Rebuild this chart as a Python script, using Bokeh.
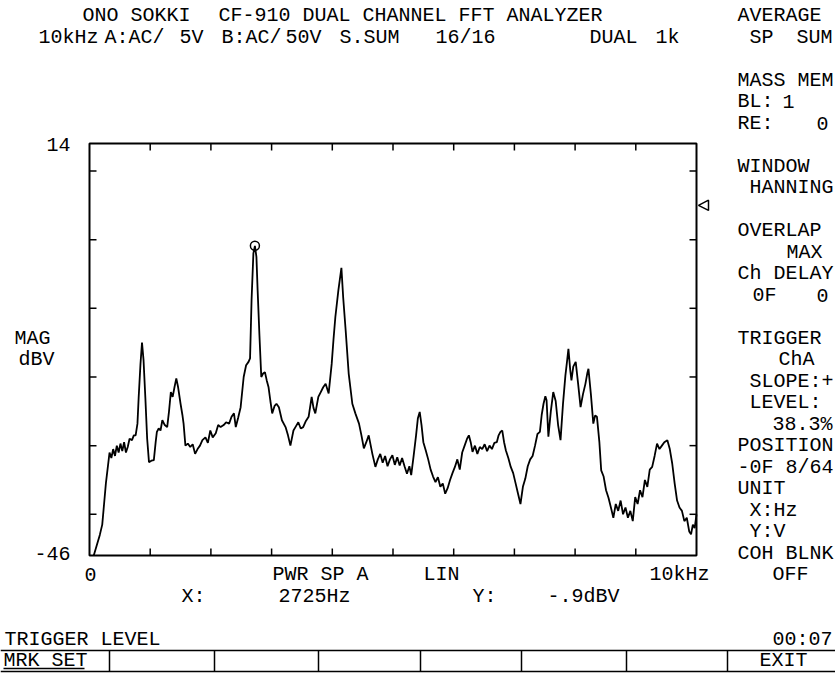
from bokeh.plotting import figure
from bokeh.models import Range1d
from bokeh.core.properties import value
from bokeh.embed import file_html
from bokeh.resources import INLINE

# ---------------- data ----------------
freq_khz = [0.07, 0.12, 0.17, 0.21, 0.24, 0.27, 0.31, 0.33, 0.36, 0.39,
            0.42, 0.45, 0.48, 0.51, 0.54, 0.57, 0.60, 0.63, 0.66, 0.70,
            0.73, 0.76, 0.79, 0.81, 0.84, 0.865, 0.89, 0.92, 0.95, 0.98,
            1.02, 1.06, 1.09, 1.11, 1.14, 1.17, 1.20, 1.24, 1.28, 1.31,
            1.34, 1.37, 1.40, 1.43, 1.46, 1.50, 1.53, 1.55, 1.58, 1.62,
            1.66, 1.70, 1.74, 1.78, 1.82, 1.86, 1.91, 1.95, 1.99, 2.03,
            2.08, 2.12, 2.16, 2.21, 2.25, 2.30, 2.34, 2.38, 2.41, 2.45,
            2.49, 2.54, 2.58, 2.62, 2.645, 2.67, 2.70, 2.725, 2.75, 2.77,
            2.80, 2.83, 2.86, 2.89, 2.92, 2.95, 2.98, 3.01, 3.05, 3.08,
            3.12, 3.17, 3.23, 3.27, 3.31, 3.36, 3.40, 3.44, 3.48, 3.52,
            3.56, 3.61, 3.66, 3.69, 3.72, 3.77, 3.81, 3.85, 3.89, 3.94,
            3.99, 4.02, 4.05, 4.10, 4.15, 4.18, 4.22, 4.27, 4.33, 4.38,
            4.44, 4.48, 4.52, 4.56, 4.60, 4.66, 4.71, 4.75, 4.79, 4.83,
            4.87, 4.91, 4.95, 4.99, 5.03, 5.07, 5.11, 5.15, 5.19, 5.23,
            5.27, 5.30, 5.34, 5.38, 5.41, 5.44, 5.47, 5.50, 5.54, 5.58,
            5.62, 5.66, 5.70, 5.74, 5.78, 5.82, 5.86, 5.90, 5.94, 5.98,
            6.02, 6.06, 6.10, 6.14, 6.18, 6.22, 6.25, 6.28, 6.31, 6.35,
            6.39, 6.43, 6.47, 6.51, 6.55, 6.59, 6.63, 6.67, 6.71, 6.74,
            6.77, 6.80, 6.83, 6.86, 6.90, 6.94, 6.98, 7.02, 7.06, 7.10,
            7.14, 7.18, 7.22, 7.26, 7.30, 7.34, 7.38, 7.42, 7.45, 7.48,
            7.51, 7.53, 7.56, 7.60, 7.64, 7.68, 7.72, 7.76, 7.80, 7.84,
            7.87, 7.89, 7.92, 7.94, 7.97, 8.01, 8.05, 8.09, 8.13, 8.17,
            8.20, 8.22, 8.26, 8.30, 8.33, 8.36, 8.40, 8.43, 8.47, 8.51,
            8.55, 8.59, 8.63, 8.67, 8.71, 8.75, 8.79, 8.83, 8.87, 8.91,
            8.95, 8.99, 9.03, 9.07, 9.11, 9.15, 9.19, 9.23, 9.27, 9.31,
            9.35, 9.39, 9.43, 9.47, 9.52, 9.56, 9.60, 9.64, 9.68, 9.72,
            9.76, 9.80, 9.84, 9.88, 9.91, 9.94, 9.97, 10.0]

mag_dbv = [-46.0, -44.5, -43.0, -41.5, -38.5, -35.5, -32.5, -31.0, -31.8, -30.5,
           -31.5, -30.0, -31.0, -29.7, -30.8, -29.5, -31.0, -30.2, -29.0, -29.2,
           -28.5, -28.5, -26.8, -23.0, -18.1, -15.0, -17.5, -23.0, -29.0, -32.4,
           -32.2, -32.1, -29.5, -28.0, -27.5, -27.8, -26.3, -27.0, -27.3, -25.0,
           -22.2, -22.9, -21.5, -20.2, -21.5, -23.9, -25.5, -26.8, -30.0, -29.7,
           -30.2, -29.8, -31.2, -30.5, -30.0, -29.2, -28.8, -29.6, -27.8, -28.8,
           -28.2, -27.0, -27.3, -27.0, -26.6, -26.8, -25.8, -25.3, -27.3, -25.9,
           -24.4, -20.0, -18.3, -17.8, -17.3, -8.8, -2.0, -0.9, -2.5, -7.4,
           -14.0, -20.0, -19.5, -19.3, -20.5, -21.5, -23.5, -25.3, -24.2, -23.9,
           -24.4, -26.3, -27.3, -28.5, -30.0, -27.8, -27.2, -26.6, -27.5, -27.3,
           -26.5, -25.8, -22.9, -24.5, -25.3, -22.9, -22.2, -21.5, -21.0, -22.4,
           -18.1, -14.5, -11.3, -7.4, -4.1, -8.5, -13.2, -19.5, -23.9, -25.3,
           -26.8, -28.5, -30.4, -29.5, -28.5, -31.2, -33.1, -32.0, -31.2, -32.5,
           -31.5, -33.0, -32.0, -31.4, -32.8, -31.7, -32.9, -31.8, -33.0, -34.1,
           -33.0, -34.3, -31.5, -28.5, -26.0, -25.1, -27.0, -29.5, -30.7, -32.0,
           -33.5, -34.5, -35.3, -34.6, -36.0, -35.5, -37.0, -36.2, -35.0, -34.0,
           -33.1, -32.0, -33.5, -31.0, -30.0, -29.0, -28.5, -29.5, -30.9, -30.0,
           -31.2, -30.2, -30.5, -29.8, -30.8, -30.0, -30.5, -29.6, -29.5, -28.5,
           -28.0, -27.8, -29.5, -30.7, -31.8, -33.1, -34.0, -35.5, -37.0, -38.5,
           -36.0, -34.8, -33.0, -32.0, -31.5, -30.0, -28.3, -28.0, -25.5, -23.9,
           -22.8, -23.4, -28.7, -25.0, -22.2, -23.5, -27.0, -29.2, -24.0, -19.8,
           -17.5, -15.9, -19.0, -20.5, -18.5, -17.8, -21.0, -24.4, -22.5, -21.0,
           -19.5, -18.8, -22.5, -26.8, -25.6, -25.8, -29.5, -33.6, -34.5, -36.5,
           -37.6, -39.0, -40.5, -38.5, -39.5, -38.0, -40.0, -39.0, -40.5, -39.5,
           -41.0, -37.5, -38.5, -36.5, -37.5, -35.0, -36.0, -33.5, -33.1, -31.5,
           -29.7, -30.5, -30.0, -29.5, -29.2, -30.5, -32.6, -35.5, -38.0, -39.0,
           -39.5, -41.0, -40.5, -42.5, -42.9, -41.5, -42.0, -40.0]

marker_freq_khz = [2.725]
marker_mag_dbv = [-0.9]
trigger_level_dbv = 5.0
x_range_khz = (0, 10)
y_range_dbv = (-46, 14)
x_ticks_khz = [1, 2, 3, 4, 5, 6, 7, 8, 9]
y_ticks_dbv = [-40, -30, -20, -10, 0, 10]

# ---------------- layout (canvas pixels) ----------------
FONT = "Liberation Mono"
FS = "20px"
W, H = 835, 673
FL, FR, FT, FB = 89, 696, 143, 555       # plot frame box
TICK = 7
ROW0, PITCH = 15, 21.5                    # character-row grid of the screen


def row(n):
    return ROW0 + PITCH * n


kx = (x_range_khz[1] - x_range_khz[0]) / (FR - FL)
ky = (y_range_dbv[1] - y_range_dbv[0]) / (FB - FT)
x_range = Range1d(x_range_khz[0] - FL * kx, x_range_khz[1] + (W - FR) * kx)
y_range = Range1d(y_range_dbv[0] - (H - FB) * ky, y_range_dbv[1] + FT * ky)

p = figure(width=W, height=H, output_backend="svg", toolbar_location=None,
           x_range=x_range, y_range=y_range,
           x_axis_type=None, y_axis_type=None, min_border=0)
p.extra_x_ranges = {"px": Range1d(0, W)}
p.extra_y_ranges = {"px": Range1d(H, 0)}
p.outline_line_color = None
p.background_fill_color = "white"
p.border_fill_color = "white"
p.grid.visible = False

# frame
p.quad(left=[x_range_khz[0]], right=[x_range_khz[1]],
       bottom=[y_range_dbv[0]], top=[y_range_dbv[1]],
       fill_color=None, line_color="black", line_width=2)
# inward ticks on all four sides
nx, ny = len(x_ticks_khz), len(y_ticks_dbv)
p.segment(x0=x_ticks_khz, y0=[FB] * nx, x1=x_ticks_khz, y1=[FB - TICK] * nx,
          y_range_name="px", line_color="black", line_width=1.5)
p.segment(x0=x_ticks_khz, y0=[FT] * nx, x1=x_ticks_khz, y1=[FT + TICK] * nx,
          y_range_name="px", line_color="black", line_width=1.5)
p.segment(x0=[FL] * ny, y0=y_ticks_dbv, x1=[FL + TICK] * ny, y1=y_ticks_dbv,
          x_range_name="px", line_color="black", line_width=1.5)
p.segment(x0=[FR] * ny, y0=y_ticks_dbv, x1=[FR - TICK] * ny, y1=y_ticks_dbv,
          x_range_name="px", line_color="black", line_width=1.5)

# spectrum + marker
p.line(freq_khz, mag_dbv, line_color="black", line_width=1.8)
p.scatter(marker_freq_khz, marker_mag_dbv, marker="circle", size=9,
          fill_color=None, line_color="black", line_width=1.5)

# trigger level triangle just right of the frame
tl = trigger_level_dbv
p.patch(x=[FR + 2, FR + 12, FR + 12], y=[tl, tl + 0.75, tl - 0.75],
        x_range_name="px", fill_color=None, line_color="black", line_width=1.5)

# ---------------- texts ----------------
texts = []   # (text, x, y, align)


def lab(text, x, y, align="center"):
    texts.append((text, x, y, align))


lab("ONO SOKKI", 82, row(0), "left")
lab("CF-910 DUAL CHANNEL FFT ANALYZER", 218, row(0), "left")
for t, cx in (("10kHz", 68), ("A:AC/", 134), ("5V", 191), ("B:AC/", 251),
              ("50V", 303), ("S.SUM", 369), ("16/16", 465), ("DUAL", 613),
              ("1k", 667)):
    lab(t, cx, row(1))

C0, C1 = 737, 749     # right panel: column 0 and indented column
panel = [(0, "AVERAGE", C0, "left"), (1, "SP", C1, "left"), (1, "SUM", 832, "right"),
         (3, "MASS MEM", C0, "left"), (4, "BL:", C0, "left"), (4, "1", 788, "center"),
         (5, "RE:", C0, "left"), (5, "0", 828, "right"),
         (7, "WINDOW", C0, "left"), (8, "HANNING", C1, "left"),
         (10, "OVERLAP", C0, "left"), (11, "MAX", 822, "right"),
         (12, "Ch DELAY", C0, "left"), (13, "0F", 752, "left"), (13, "0", 828, "right"),
         (15, "TRIGGER", C0, "left"), (16, "ChA", 814, "right"),
         (17, "SLOPE:+", C1, "left"), (18, "LEVEL:", C1, "left"),
         (19, "38.3%", 832, "right"), (20, "POSITION", C0, "left"),
         (21, "-0F 8/64", C0, "left"), (22, "UNIT", C0, "left"),
         (23, "X:Hz", C1, "left"), (24, "Y:V", C1, "left"),
         (25, "COH BLNK", C0, "left"), (26, "OFF", 790, "center")]
for n, t, x, a in panel:
    lab(t, x, row(n), a)

lab("14", 70, row(6), "right")
lab("-46", 70, row(25), "right")
lab("MAG", 32, row(15))
lab("dBV", 36, row(16))

lab("0", 90, row(26))
lab("PWR SP A", 320, row(26))
lab("LIN", 441, row(26))
lab("10kHz", 679, row(26))
lab("X:", 193, row(27))
lab("2725Hz", 314, row(27))
lab("Y:", 484, row(27))
lab("-.9dBV", 583, row(27))

lab("TRIGGER LEVEL", 4, row(29), "left")
lab("00:07", 832, row(29), "right")
lab("MRK SET", 3, row(30), "left")
lab("EXIT", 783, row(30))

groups = {}
for t, x, y, a in texts:
    groups.setdefault(a, []).append((t, x, y))
for a, items in groups.items():
    p.text(x=[i[1] for i in items], y=[i[2] for i in items],
           text=[i[0] for i in items], x_range_name="px", y_range_name="px",
           text_font=value(FONT), text_font_size=value(FS), text_align=a,
           text_baseline="middle", text_color="black")

# bottom soft-key row
p.segment(x0=[0, 0], y0=[650, 671], x1=[W, W], y1=[650, 671],
          x_range_name="px", y_range_name="px", line_color="black", line_width=1.5)
keys_x = [109, 214, 318, 420, 521, 626, 727]
p.segment(x0=keys_x, y0=[650] * 7, x1=keys_x, y1=[671] * 7,
          x_range_name="px", y_range_name="px", line_color="black", line_width=1.5)
p.segment(x0=[3], y0=[668], x1=[84], y1=[668], x_range_name="px", y_range_name="px",
          line_color="black", line_width=1.5)

open("out.html", "w").write(file_html(p, INLINE))
